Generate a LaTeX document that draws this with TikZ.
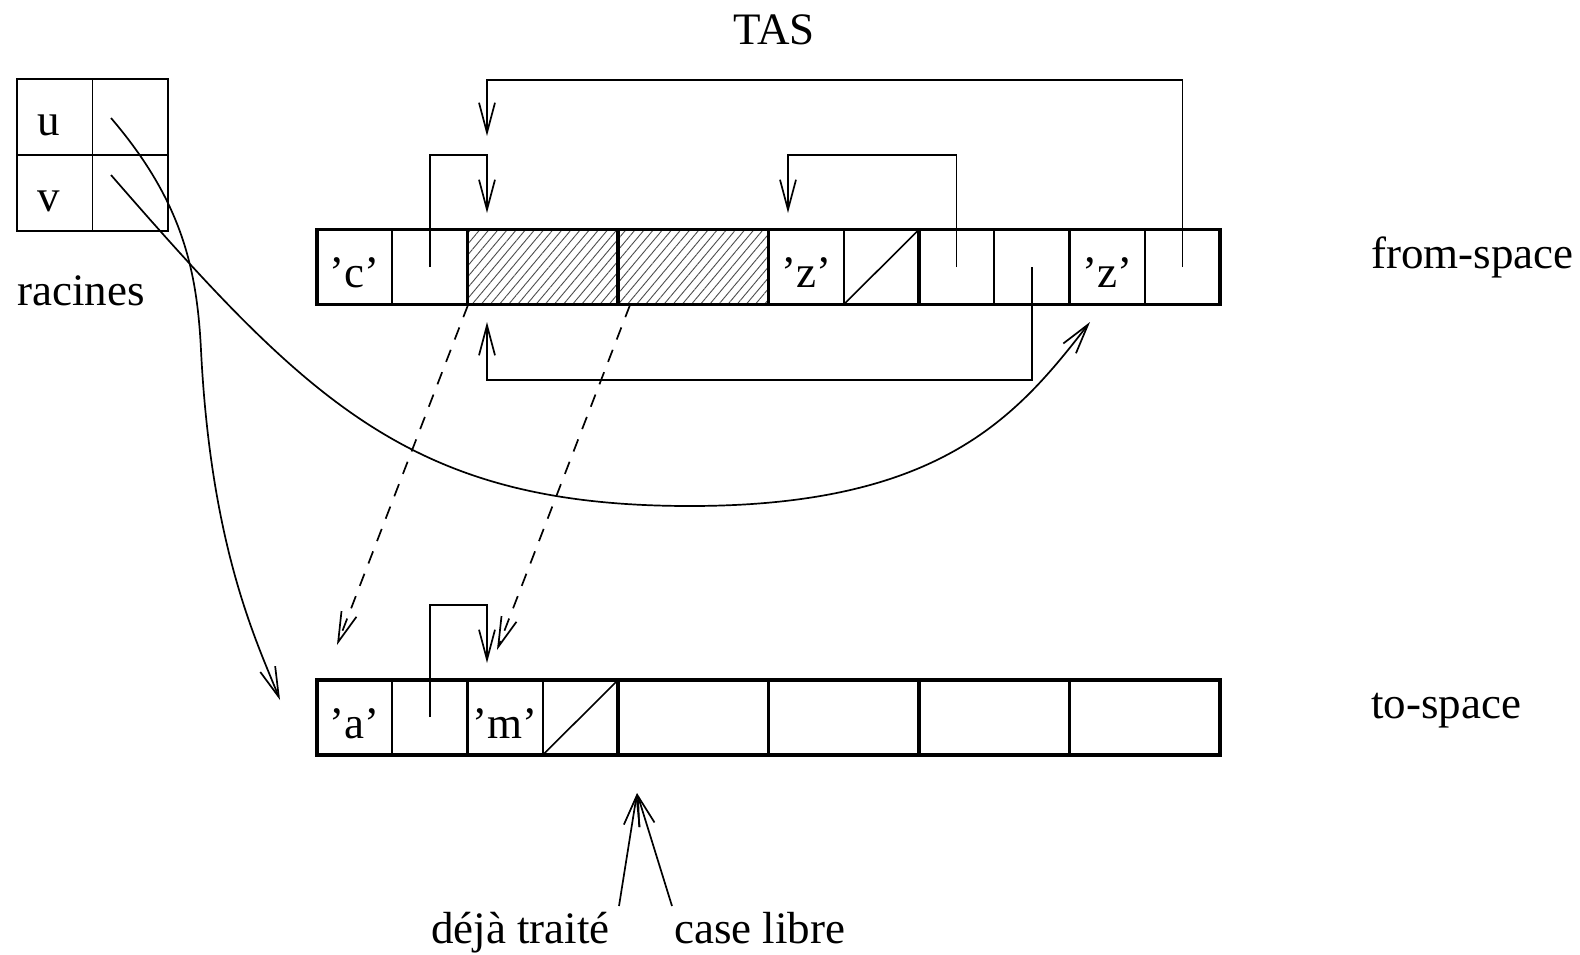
\documentclass[tikz,border=0pt]{standalone}
\usepackage{fontspec}
\setmainfont{Liberation Serif}
\usetikzlibrary{arrows.meta,patterns.meta}
\begin{document}
\begin{tikzpicture}[x=1pt,y=-1pt,
  thinline/.style={line width=1.6pt},
  blockbox/.style={draw, line width=3.6pt, minimum width=150.5pt, minimum height=75pt, inner sep=0pt, outer sep=0pt},
  hatched/.style={pattern={Lines[angle=50,distance=7pt,line width=0.9pt]}, pattern color=black!70},
  rootbox/.style={draw, line width=1.6pt, minimum width=151pt, minimum height=152pt, inner sep=0pt, outer sep=0pt},
  ptr/.style={line width=1.7pt, -{Straight Barb[length=30pt,width=16pt]}},
  fwd/.style={ptr, dash pattern=on 13pt off 11pt},
  lbl/.style={anchor=base, inner sep=0pt, font=\fontsize{45}{54}\selectfont},
  lbll/.style={anchor=base west, inner sep=0pt, font=\fontsize{45}{54}\selectfont},
]
\useasboundingbox (0,0) rectangle (1580,954);

% ---------- title ----------
\node[lbl] (tas) at (774,44) {TAS};

% ---------- roots ----------
\node[rootbox] (R) at (92.5,155) {};
\draw[thinline] (R.north) -- (R.south);
\draw[thinline] (R.west) -- (R.east);
\node[lbl] (lu) at (49,135) {u};
\node[lbl] (lv) at (49,211) {v};
\node[lbll] (racines) at (17,305) {racines};
\coordinate (ru) at (111,118);
\coordinate (rv) at (111,175);

% ---------- from-space ----------
\foreach \x in {392.25,843.75,994.25,1144.75}{
  \draw[thinline] (\x,229.5) -- (\x,304.5);
}
\node[blockbox] (F0) at (392.25,267) {};
\node[blockbox,hatched] (F1) at (542.75,267) {};
\node[blockbox,hatched] (F2) at (693.25,267) {};
\node[blockbox] (F3) at (843.75,267) {};
\node[blockbox] (F4) at (994.25,267) {};
\node[blockbox] (F5) at (1144.75,267) {};
\draw[thinline] (F3.south) -- (F3.north east);
\node[lbl] (fc) at (354.6,287) {’c’};
\node[lbl] (fz1) at (806.1,287) {’z’};
\node[lbl] (fz2) at (1107.1,287) {’z’};
\node[lbll] (fromspace) at (1371,268) {from-space};

% ---------- to-space ----------
\foreach \x in {392.25,542.75}{
  \draw[thinline] (\x,680) -- (\x,755);
}
\node[blockbox] (T0) at (392.25,717.5) {};
\node[blockbox] (T1) at (542.75,717.5) {};
\node[blockbox] (T2) at (693.25,717.5) {};
\node[blockbox] (T3) at (843.75,717.5) {};
\node[blockbox] (T4) at (994.25,717.5) {};
\node[blockbox] (T5) at (1144.75,717.5) {};
\draw[thinline] (T1.south) -- (T1.north east);
\node[lbl] (ta) at (354.6,738) {’a’};
\node[lbl] (tm) at (505.1,738) {’m’};
\node[lbll] (tospace) at (1371,718) {to-space};

% ---------- pointers in from-space ----------
\coordinate (p0) at (430,267);
\coordinate (p4a) at (956.6,267);
\coordinate (p4b) at (1032,267);
\coordinate (p5) at (1182.6,267);
\coordinate (t1) at (487,213);
\coordinate (t1top) at (487,136);
\coordinate (t1bot) at (487,322);
\coordinate (t3) at (788,213);
\coordinate (t5) at (1090,322);
\draw[ptr] (p0) -- ++(0,-112) -| (t1);
\draw[ptr] (p4a) -- ++(0,-112) -| (t3);
\draw[ptr] (p5) -- ++(0,-187) -| (t1top);
\draw[ptr] (p4b) -- ++(0,113) -| (t1bot);

% ---------- pointer in to-space ----------
\coordinate (q0) at (430,717);
\coordinate (s1) at (487,663);
\draw[ptr] (q0) -- ++(0,-112) -| (s1);

% ---------- forwarding (dashed) ----------
\coordinate (d1) at (468,305);
\coordinate (d2) at (630,305);
\coordinate (e1) at (337,645);
\coordinate (e2) at (497,650);
\draw[fwd] (d1) -- (e1);
\draw[fwd] (d2) -- (e2);

% ---------- root pointers ----------
\coordinate (um) at (201,350);
\coordinate (ue) at (280,700);
\draw[ptr] (ru) .. controls (182.5,201.6) and (197,270) .. (um)
               .. controls (211,550) and (257.8,644) .. (ue);
\coordinate (vm) at (690,506);
\draw[ptr] (rv) .. controls (311,405) and (414,506) .. (vm)
               .. controls (940,506) and (1016.8,416.8) .. (t5);

% ---------- scan pointers ----------
\node[lbll] (deja) at (431,943) {déjà traité};
\node[lbll] (libre) at (674,943) {case libre};
\coordinate (scan) at (637,793);
\coordinate (dl) at (619,906);
\coordinate (cl) at (672,906);
\draw[ptr] (dl) -- (scan);
\draw[ptr] (cl) -- (scan);
\end{tikzpicture}
\end{document}
